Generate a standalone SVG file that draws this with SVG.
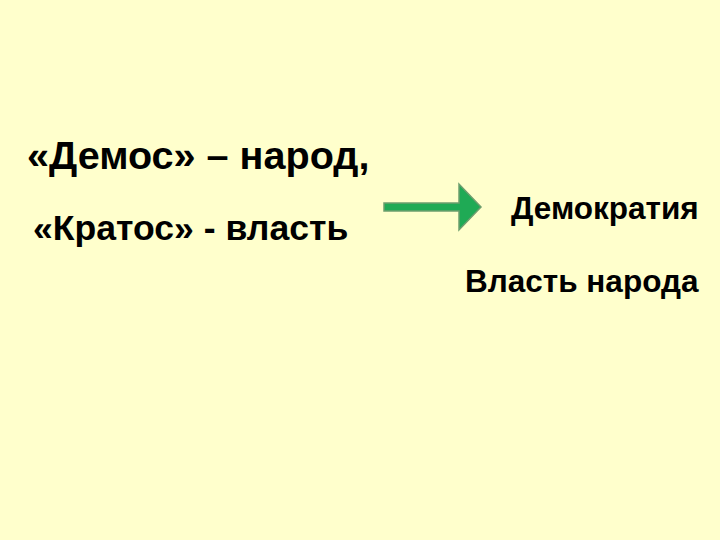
<svg xmlns="http://www.w3.org/2000/svg" width="720" height="540" viewBox="0 0 720 540">
<style>
text{font-family:"Liberation Sans",Arial,sans-serif;font-weight:bold;fill:#000}
.big{font-size:39.6px}
.mid{font-size:35.6px}
.sm{font-size:31.5px}
</style>
<rect width="720" height="540" fill="#FFFFCC"/>
<g id="t1"><text class="big" x="27" y="169">«Демос» – народ,</text></g>
<g id="t2"><text class="mid" x="33" y="240">«Кратос» - власть</text></g>
<g id="t3"><text class="sm" x="511" y="219">Демократия</text></g>
<g id="t4"><text class="sm" x="465" y="292">Власть народа</text></g>
<g id="connectors">
<path d="M384,203 H459 V184 L481,207 L459,230 V211 H384 Z" fill="#1FAA55" stroke="#6E9E6E" stroke-width="1.5"/>
</g>
</svg>
